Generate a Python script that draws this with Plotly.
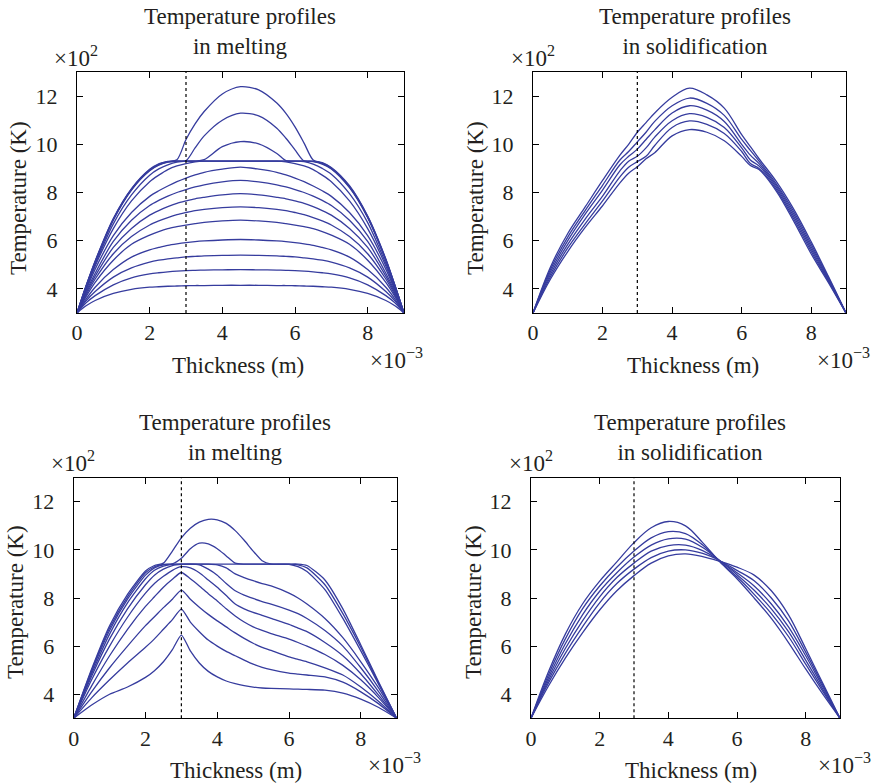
import plotly.graph_objects as go

# ---------------- data (x in 1e-3 m, T in 1e2 K) ----------------
interface_x = 3.0

# Panel 1: melting (top-left)
melt1_x = [0, 0.25, 0.5, 1, 1.5, 2, 2.25, 2.5, 2.75, 3, 3.25, 3.5, 4, 4.5, 5, 5.5, 5.75, 6, 6.25, 6.5, 6.75, 7, 7.5, 8, 8.5, 8.75, 9]
melt1_T = [
    [3, 3.3, 3.52, 3.81, 3.98, 4.07, 4.09, 4.11, 4.12, 4.13, 4.14, 4.14, 4.15, 4.15, 4.15, 4.14, 4.14, 4.13, 4.12, 4.11, 4.09, 4.07, 3.98, 3.81, 3.52, 3.3, 3],
    [3, 3.42, 3.72, 4.17, 4.46, 4.62, 4.67, 4.71, 4.74, 4.76, 4.77, 4.78, 4.79, 4.8, 4.79, 4.78, 4.77, 4.76, 4.74, 4.71, 4.67, 4.62, 4.46, 4.17, 3.72, 3.42, 3],
    [3, 3.5, 3.89, 4.49, 4.87, 5.11, 5.19, 5.25, 5.29, 5.33, 5.35, 5.37, 5.39, 5.4, 5.39, 5.37, 5.35, 5.33, 5.29, 5.25, 5.19, 5.11, 4.87, 4.49, 3.89, 3.5, 3],
    [3, 3.58, 4.07, 4.8, 5.32, 5.62, 5.72, 5.81, 5.87, 5.92, 5.96, 5.99, 6.03, 6.05, 6.03, 5.99, 5.96, 5.92, 5.87, 5.81, 5.72, 5.62, 5.32, 4.8, 4.07, 3.58, 3],
    [3, 3.68, 4.27, 5.19, 5.85, 6.23, 6.38, 6.5, 6.58, 6.65, 6.71, 6.76, 6.82, 6.85, 6.82, 6.76, 6.71, 6.65, 6.58, 6.5, 6.38, 6.23, 5.85, 5.19, 4.27, 3.68, 3],
    [3, 3.75, 4.41, 5.46, 6.17, 6.65, 6.82, 6.96, 7.08, 7.17, 7.25, 7.3, 7.37, 7.4, 7.37, 7.3, 7.25, 7.17, 7.08, 6.96, 6.82, 6.65, 6.17, 5.46, 4.41, 3.75, 3],
    [3, 3.82, 4.53, 5.72, 6.51, 7.06, 7.25, 7.41, 7.55, 7.65, 7.74, 7.8, 7.9, 7.95, 7.9, 7.8, 7.74, 7.65, 7.55, 7.41, 7.25, 7.06, 6.51, 5.72, 4.53, 3.82, 3],
    [3, 3.88, 4.65, 5.97, 6.85, 7.46, 7.67, 7.85, 8.0, 8.12, 8.23, 8.32, 8.44, 8.5, 8.44, 8.32, 8.23, 8.12, 8.0, 7.85, 7.67, 7.46, 6.85, 5.97, 4.65, 3.88, 3],
    [3, 3.95, 4.82, 6.21, 7.17, 7.84, 8.07, 8.27, 8.45, 8.6, 8.73, 8.84, 8.97, 9.05, 8.97, 8.84, 8.73, 8.6, 8.45, 8.27, 8.07, 7.84, 7.17, 6.21, 4.82, 3.95, 3],
    [3, 4.0, 4.95, 6.5, 7.65, 8.45, 8.72, 8.95, 9.1, 9.2, 9.27, 9.3, 9.3, 9.3, 9.3, 9.3, 9.27, 9.2, 9.1, 8.95, 8.72, 8.45, 7.65, 6.5, 4.95, 4.0, 3],
    [3, 4.05, 5.02, 6.7, 7.9, 8.72, 8.98, 9.15, 9.26, 9.3, 9.3, 9.3, 9.3, 9.3, 9.3, 9.3, 9.3, 9.3, 9.28, 9.18, 9.0, 8.76, 7.95, 6.75, 5.05, 4.07, 3],
    [3, 4.1, 5.1, 6.85, 8.1, 8.9, 9.13, 9.26, 9.3, 9.3, 9.3, 9.3, 9.3, 9.3, 9.3, 9.3, 9.3, 9.3, 9.3, 9.28, 9.18, 8.98, 8.2, 6.95, 5.18, 4.12, 3],
    [3, 4.1, 5.12, 6.88, 8.12, 8.92, 9.15, 9.27, 9.3, 9.3, 9.3, 9.36, 9.9, 10.11, 10.02, 9.62, 9.32, 9.3, 9.3, 9.29, 9.2, 9.0, 8.22, 6.98, 5.2, 4.13, 3],
    [3, 4.12, 5.14, 6.9, 8.14, 8.94, 9.17, 9.28, 9.3, 9.32, 9.85, 10.35, 11.0, 11.29, 11.18, 10.67, 10.25, 9.77, 9.31, 9.3, 9.22, 9.02, 8.25, 7.0, 5.22, 4.14, 3],
    [3, 4.13, 5.16, 6.92, 8.16, 8.96, 9.19, 9.29, 9.36, 10.2, 10.85, 11.36, 12.09, 12.39, 12.26, 11.71, 11.28, 10.72, 10.05, 9.35, 9.24, 9.04, 8.28, 7.02, 5.24, 4.15, 3],
]

# Panel 2: solidification (top-right)
solid1_x = [0, 0.5, 1, 1.5, 2, 2.5, 2.75, 3, 3.25, 3.5, 4, 4.5, 5, 5.5, 6, 6.25, 6.5, 7, 7.5, 8, 8.5, 9]
solid1_T = [
    [3, 4.9, 6.3, 7.4, 8.5, 9.55, 10.0, 10.5, 10.9, 11.3, 11.95, 12.33, 12.05, 11.5, 10.4, 9.9, 9.4, 8.45, 7.3, 5.95, 4.5, 3],
    [3, 4.8, 6.15, 7.25, 8.3, 9.35, 9.7, 10.1, 10.5, 10.95, 11.6, 11.92, 11.7, 11.2, 10.2, 9.75, 9.3, 8.35, 7.2, 5.85, 4.45, 3],
    [3, 4.7, 6.0, 7.1, 8.1, 9.15, 9.5, 9.8, 10.2, 10.6, 11.3, 11.6, 11.42, 10.95, 10.0, 9.55, 9.2, 8.28, 7.1, 5.75, 4.4, 3],
    [3, 4.6, 5.85, 6.9, 7.85, 8.9, 9.3, 9.5, 9.85, 10.3, 10.98, 11.27, 11.12, 10.7, 9.85, 9.35, 9.1, 8.2, 7.0, 5.65, 4.35, 3],
    [3, 4.5, 5.7, 6.7, 7.65, 8.65, 9.05, 9.28, 9.5, 9.95, 10.7, 10.97, 10.83, 10.45, 9.7, 9.2, 9.0, 8.12, 6.9, 5.55, 4.3, 3],
    [3, 4.4, 5.55, 6.55, 7.45, 8.4, 8.8, 9.07, 9.4, 9.65, 10.35, 10.61, 10.5, 10.15, 9.5, 9.12, 8.95, 8.05, 6.8, 5.45, 4.25, 3],
]

# Panel 3: melting (bottom-left)
melt2_x = [0, 0.5, 1, 1.5, 2, 2.25, 2.5, 2.75, 3, 3.25, 3.5, 3.75, 4, 4.25, 4.5, 4.75, 5, 5.25, 5.5, 6, 6.25, 6.5, 7, 7.5, 8, 8.5, 9]
melt2_T = [
    [3, 3.55, 4.0, 4.3, 4.7, 4.98, 5.35, 5.85, 6.46, 5.8, 5.3, 4.95, 4.72, 4.55, 4.44, 4.36, 4.3, 4.26, 4.24, 4.22, 4.21, 4.2, 4.17, 4.05, 3.8, 3.45, 3],
    [3, 3.85, 4.6, 5.3, 5.95, 6.3, 6.7, 7.1, 7.54, 7.0, 6.6, 6.25, 6.0, 5.78, 5.6, 5.42, 5.25, 5.12, 5.02, 4.88, 4.84, 4.8, 4.72, 4.5, 4.1, 3.6, 3],
    [3, 4.1, 5.1, 6.0, 6.85, 7.22, 7.6, 7.95, 8.33, 7.95, 7.62, 7.32, 7.05, 6.8, 6.55, 6.32, 6.12, 5.95, 5.82, 5.55, 5.45, 5.35, 5.1, 4.8, 4.3, 3.7, 3],
    [3, 4.35, 5.6, 6.7, 7.65, 8.05, 8.45, 8.78, 9.06, 8.8, 8.5, 8.18, 7.88, 7.55, 7.25, 7.0, 6.8, 6.65, 6.52, 6.29, 6.15, 6.0, 5.65, 5.2, 4.6, 3.85, 3],
    [3, 4.6, 6.0, 7.2, 8.2, 8.6, 8.9, 9.15, 9.3, 9.25, 9.05, 8.75, 8.45, 8.1, 7.75, 7.55, 7.4, 7.28, 7.15, 6.9, 6.75, 6.6, 6.15, 5.6, 4.85, 3.95, 3],
    [3, 4.75, 6.3, 7.55, 8.55, 8.95, 9.2, 9.35, 9.4, 9.41, 9.38, 9.2, 8.95, 8.6, 8.3, 8.12, 7.98, 7.85, 7.75, 7.5, 7.35, 7.15, 6.65, 6.0, 5.1, 4.1, 3],
    [3, 4.85, 6.5, 7.8, 8.8, 9.15, 9.32, 9.4, 9.41, 9.41, 9.41, 9.41, 9.38, 9.25, 9.0, 8.85, 8.72, 8.6, 8.5, 8.2, 8.0, 7.75, 7.15, 6.35, 5.35, 4.25, 3],
    [3, 4.95, 6.65, 7.95, 8.95, 9.25, 9.38, 9.41, 9.41, 9.41, 9.41, 9.41, 9.41, 9.41, 9.41, 9.41, 9.41, 9.41, 9.41, 9.4, 9.3, 9.1, 8.35, 7.15, 5.8, 4.4, 3],
    [3, 5.0, 6.75, 8.05, 9.05, 9.3, 9.4, 9.42, 9.65, 10.05, 10.28, 10.25, 10.05, 9.75, 9.45, 9.41, 9.41, 9.41, 9.41, 9.41, 9.38, 9.25, 8.55, 7.35, 5.95, 4.45, 3],
    [3, 5.05, 6.85, 8.15, 9.12, 9.35, 9.45, 9.95, 10.5, 10.9, 11.15, 11.27, 11.25, 11.1, 10.8, 10.4, 9.95, 9.55, 9.41, 9.41, 9.41, 9.35, 8.75, 7.55, 6.05, 4.5, 3],
]

# Panel 4: solidification (bottom-right)
solid2_x = [0, 0.5, 1, 1.5, 2, 2.5, 3, 3.5, 4, 4.5, 5, 5.5, 6, 6.5, 7, 7.5, 8, 8.5, 9]
solid2_T = [
    [3, 4.9, 6.5, 7.75, 8.7, 9.5, 10.3, 10.92, 11.18, 11.0, 10.3, 9.5, 8.8, 8.0, 7.15, 6.15, 5.05, 4.0, 3],
    [3, 4.78, 6.3, 7.55, 8.5, 9.28, 9.95, 10.5, 10.76, 10.68, 10.2, 9.52, 8.88, 8.15, 7.35, 6.4, 5.25, 4.12, 3],
    [3, 4.66, 6.1, 7.3, 8.28, 9.05, 9.7, 10.2, 10.46, 10.45, 10.1, 9.55, 8.97, 8.32, 7.55, 6.6, 5.42, 4.2, 3],
    [3, 4.55, 5.9, 7.05, 8.05, 8.85, 9.45, 9.95, 10.18, 10.2, 9.97, 9.55, 9.05, 8.5, 7.75, 6.8, 5.6, 4.3, 3],
    [3, 4.45, 5.7, 6.8, 7.8, 8.6, 9.2, 9.68, 9.95, 10.0, 9.85, 9.55, 9.15, 8.72, 8.0, 7.05, 5.75, 4.38, 3],
    [3, 4.32, 5.5, 6.55, 7.5, 8.3, 8.93, 9.45, 9.75, 9.83, 9.72, 9.52, 9.28, 8.95, 8.3, 7.3, 5.9, 4.45, 3],
]

x_ticks = [0, 2, 4, 6, 8]
y_ticks = [4, 6, 8, 10, 12]
x_range = [0, 9]
y_range = [3, 13]

titles = ["Temperature profiles<br>in melting", "Temperature profiles<br>in solidification",
          "Temperature profiles<br>in melting", "Temperature profiles<br>in solidification"]

# ---------------- figure ----------------
W, H = 876, 783
LINE = "#363c9e"
TXT = "#231f20"
FONT = "Liberation Serif"

fig = go.Figure()

panels = [(melt1_x, melt1_T), (solid1_x, solid1_T), (melt2_x, melt2_T), (solid2_x, solid2_T)]
smooth = [0.8, 1.0, 0.6, 1.0]
for i, (xs, curves) in enumerate(panels):
    ax = "" if i == 0 else str(i + 1)
    for T in curves:
        fig.add_trace(go.Scatter(x=xs, y=T, mode="lines", xaxis="x" + ax, yaxis="y" + ax,
                                 line=dict(color=LINE, width=1.3, shape="spline", smoothing=smooth[i]),
                                 hoverinfo="skip", showlegend=False))
    fig.add_trace(go.Scatter(x=[interface_x, interface_x], y=y_range, mode="lines",
                             xaxis="x" + ax, yaxis="y" + ax,
                             line=dict(color="black", width=1.2, dash="dot"),
                             hoverinfo="skip", showlegend=False))

# panel boxes in pixels: (left, right, top, bottom)
boxes = [(77, 404, 72, 313), (533, 846, 72, 313), (73.7, 396.7, 477.7, 718.3), (531, 840, 477.7, 718.3)]


def px_x(p):
    return p / W


def px_y(p):
    return 1 - p / H


axis_common = dict(showline=True, linecolor="black", linewidth=1, mirror="allticks",
                   ticks="inside", ticklen=6, tickwidth=1, tickcolor="black",
                   showgrid=False, zeroline=False, automargin=False,
                   tickfont=dict(family=FONT, size=22, color=TXT))

layout = dict(width=W, height=H, margin=dict(l=0, r=0, t=0, b=0, autoexpand=False),
              paper_bgcolor="white", plot_bgcolor="white", showlegend=False)
for i, (l, r, t, b) in enumerate(boxes):
    ax = "" if i == 0 else str(i + 1)
    layout["xaxis" + ax] = dict(axis_common, domain=[px_x(l), px_x(r)], range=x_range,
                                tickvals=x_ticks, anchor="y" + ax, ticklabelstandoff=0)
    layout["yaxis" + ax] = dict(axis_common, domain=[px_y(b), px_y(t)], range=y_range,
                                tickvals=y_ticks, anchor="x" + ax, ticklabelstandoff=14)

fig.update_layout(**layout)

ann = []
# titles: (center x, center y)
title_pos = [(240, 32), (695, 32), (235, 437), (690, 437)]
for txt, (cx, cy) in zip(titles, title_pos):
    ann.append(dict(text=txt, x=px_x(cx), y=px_y(cy), xref="paper", yref="paper",
                    xanchor="center", yanchor="middle", showarrow=False,
                    font=dict(family=FONT, size=23, color=TXT)))
# x10^2
for (lx, cy) in [(52, 56), (509, 56), (49, 461), (507, 461)]:
    ann.append(dict(text="×10<sup>2</sup>", x=px_x(lx), y=px_y(cy), xref="paper", yref="paper",
                    xanchor="left", yanchor="middle", showarrow=False,
                    font=dict(family=FONT, size=23, color=TXT)))
# x10^-3
for (lx, cy) in [(368, 358), (815, 358), (366, 763), (816, 763)]:
    ann.append(dict(text="×10<sup>−3</sup>", x=px_x(lx), y=px_y(cy), xref="paper", yref="paper",
                    xanchor="left", yanchor="middle", showarrow=False,
                    font=dict(family=FONT, size=23, color=TXT)))
# x-axis titles
for (cx, cy) in [(238, 365), (693, 365), (236, 770), (691, 770)]:
    ann.append(dict(text="Thickness (m)", x=px_x(cx), y=px_y(cy), xref="paper", yref="paper",
                    xanchor="center", yanchor="middle", showarrow=False,
                    font=dict(family=FONT, size=23, color=TXT)))
# y-axis titles
for (cx, cy) in [(18, 198), (475, 198), (15, 602), (473, 602)]:
    ann.append(dict(text="Temperature (K)", x=px_x(cx), y=px_y(cy), xref="paper", yref="paper",
                    xanchor="center", yanchor="middle", showarrow=False, textangle=-90,
                    font=dict(family=FONT, size=23, color=TXT)))

fig.update_layout(annotations=ann)
fig.write_html("out.html", config={"displayModeBar": False},
               post_script="document.body.style.margin='0px';document.body.style.padding='0px';"
                           "document.body.style.overflow='hidden';")
